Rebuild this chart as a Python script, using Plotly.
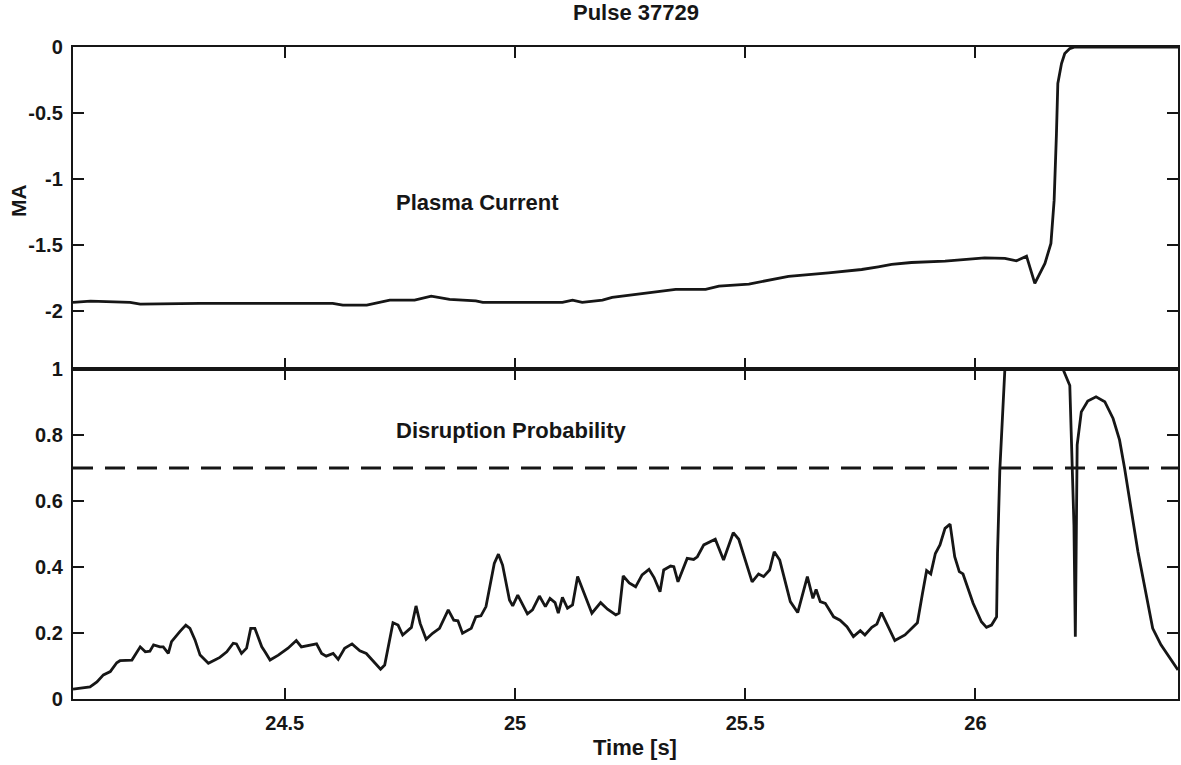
import plotly.graph_objects as go
from plotly.subplots import make_subplots

title_text = "Pulse 37729"
current_label = "Plasma Current"
prob_label = "Disruption Probability"
y_top_title = "MA"
x_title = "Time [s]"
threshold = 0.7

# Plasma current (MA) vs time (s)
t_current = [24.04, 24.078, 24.164, 24.186, 24.316, 24.604, 24.626, 24.678, 24.728, 24.782,
             24.818, 24.858, 24.915, 24.930, 25.103, 25.125, 25.146, 25.190, 25.211, 25.291,
             25.349, 25.414, 25.443, 25.508, 25.551, 25.594, 25.681, 25.753, 25.789, 25.818,
             25.861, 25.934, 26.020, 26.064, 26.089, 26.111, 26.129, 26.151, 26.164, 26.171,
             26.176, 26.179, 26.187, 26.194, 26.205, 26.216, 26.44]
i_current = [-1.938, -1.928, -1.938, -1.951, -1.945, -1.945, -1.958, -1.958, -1.92, -1.92,
             -1.89, -1.915, -1.926, -1.938, -1.938, -1.92, -1.938, -1.92, -1.90, -1.862,
             -1.839, -1.839, -1.814, -1.799, -1.769, -1.74, -1.713, -1.688, -1.668, -1.65,
             -1.635, -1.625, -1.60, -1.604, -1.622, -1.587, -1.794, -1.642, -1.49, -1.162,
             -0.657, -0.277, -0.126, -0.05, -0.012, 0.0, 0.0]

# Disruption probability vs time (s)
t_prob = [24.04, 24.049, 24.077, 24.092, 24.106, 24.121, 24.135, 24.142, 24.168, 24.186,
          24.197, 24.207, 24.215, 24.229, 24.236, 24.247, 24.254, 24.272, 24.285, 24.294,
          24.305, 24.316, 24.334, 24.348, 24.359, 24.374, 24.388, 24.395, 24.406, 24.417,
          24.426, 24.435, 24.450, 24.457, 24.468, 24.486, 24.507, 24.525, 24.536, 24.569,
          24.580, 24.590, 24.605, 24.616, 24.630, 24.646, 24.663, 24.677, 24.691, 24.708,
          24.717, 24.735, 24.746, 24.756, 24.775, 24.785, 24.794, 24.807, 24.821, 24.836,
          24.855, 24.867, 24.876, 24.886, 24.905, 24.915, 24.926, 24.937, 24.955, 24.964,
          24.973, 24.988, 24.995, 25.006, 25.027, 25.038, 25.053, 25.066, 25.076, 25.087,
          25.094, 25.103, 25.114, 25.125, 25.136, 25.150, 25.167, 25.186, 25.201, 25.219,
          25.226, 25.235, 25.248, 25.262, 25.276, 25.291, 25.302, 25.315, 25.323, 25.338,
          25.345, 25.354, 25.374, 25.388, 25.396, 25.410, 25.425, 25.435, 25.453, 25.474,
          25.486, 25.500, 25.515, 25.529, 25.540, 25.553, 25.563, 25.575, 25.587, 25.598,
          25.614, 25.635, 25.647, 25.654, 25.663, 25.674, 25.692, 25.706, 25.721, 25.735,
          25.750, 25.760, 25.775, 25.786, 25.796, 25.807, 25.825, 25.847, 25.861, 25.874,
          25.885, 25.894, 25.903, 25.913, 25.923, 25.934, 25.945, 25.955, 25.965, 25.973,
          25.995, 26.013, 26.024, 26.035, 26.046, 26.048, 26.053, 26.058, 26.064, 26.190,
          26.201, 26.205, 26.208, 26.214, 26.217, 26.219, 26.221, 26.230, 26.244, 26.262,
          26.281, 26.299, 26.313, 26.324, 26.353, 26.385, 26.403, 26.44]
p_prob = [0.03, 0.032, 0.037, 0.052, 0.073, 0.083, 0.11, 0.116, 0.118, 0.158,
          0.143, 0.145, 0.164, 0.158, 0.158, 0.138, 0.174, 0.204, 0.224, 0.214,
          0.179, 0.133, 0.108, 0.118, 0.126, 0.143, 0.169, 0.167, 0.138, 0.154,
          0.214, 0.214, 0.158, 0.143, 0.118, 0.133, 0.154, 0.177, 0.158, 0.167,
          0.138, 0.130, 0.138, 0.120, 0.154, 0.167, 0.146, 0.138, 0.116, 0.09,
          0.103, 0.231, 0.224, 0.194, 0.217, 0.282, 0.229, 0.181, 0.199, 0.214,
          0.27, 0.239, 0.237, 0.199, 0.214, 0.249, 0.252, 0.28, 0.411, 0.439,
          0.406, 0.30, 0.282, 0.315, 0.258, 0.27, 0.312, 0.28, 0.305, 0.292,
          0.26, 0.308, 0.275, 0.285, 0.371, 0.32, 0.26, 0.292, 0.272, 0.255,
          0.26, 0.373, 0.352, 0.34, 0.376, 0.393, 0.368, 0.325, 0.391, 0.403,
          0.401, 0.355, 0.426, 0.423, 0.431, 0.467, 0.477, 0.484, 0.421, 0.504,
          0.484, 0.423, 0.355, 0.379, 0.371, 0.391, 0.446, 0.421, 0.351, 0.295,
          0.262, 0.371, 0.305, 0.332, 0.295, 0.29, 0.249, 0.239, 0.219, 0.189,
          0.207, 0.194, 0.217, 0.227, 0.262, 0.229, 0.177, 0.194, 0.214, 0.231,
          0.32, 0.389, 0.379, 0.441, 0.467, 0.517, 0.53, 0.431, 0.386, 0.379,
          0.29, 0.234, 0.217, 0.224, 0.249, 0.441, 0.694, 0.845, 1.0, 1.0,
          0.967, 0.95, 0.81, 0.527, 0.189, 0.487, 0.77, 0.87, 0.903, 0.916,
          0.901, 0.85, 0.785, 0.699, 0.446, 0.214, 0.164, 0.088]

x_range = [24.04, 26.44]
x_ticks = [24.5, 25, 25.5, 26]
x_ticktext = ["24.5", "25", "25.5", "26"]
y_top_range = [-2.443, 0]
y_top_ticks = [0, -0.5, -1, -1.5, -2]
y_top_ticktext = ["0", "-0.5", "-1", "-1.5", "-2"]
y_bot_range = [0, 1]
y_bot_ticks = [0, 0.2, 0.4, 0.6, 0.8, 1]
y_bot_ticktext = ["0", "0.2", "0.4", "0.6", "0.8", "1"]

FONT = "Liberation Sans, Arial, sans-serif"
INK = "#161616"

fig = make_subplots(rows=2, cols=1, shared_xaxes=True, vertical_spacing=0,
                    row_heights=[322, 330])

fig.add_trace(go.Scatter(x=t_current, y=i_current, mode="lines",
                         line=dict(color=INK, width=2.8), showlegend=False),
              row=1, col=1)
fig.add_trace(go.Scatter(x=t_prob, y=p_prob, mode="lines",
                         line=dict(color=INK, width=2.8), showlegend=False),
              row=2, col=1)
fig.add_hline(y=threshold, row=2, col=1,
              line=dict(color=INK, width=2.8, dash="20px,12px"))

axis_common = dict(showline=True, linecolor=INK, linewidth=2.4, mirror="ticks",
                   ticks="inside", ticklen=11, tickwidth=2, tickcolor=INK,
                   showgrid=False, zeroline=False,
                   tickfont=dict(family=FONT, size=20, color=INK, weight="bold"))

fig.update_xaxes(range=x_range, tickvals=x_ticks, ticktext=x_ticktext, **axis_common)
fig.update_xaxes(showticklabels=False, row=1, col=1)
fig.update_xaxes(ticklabelstandoff=5, row=2, col=1)
fig.update_yaxes(range=y_top_range, tickvals=y_top_ticks, ticktext=y_top_ticktext,
                 ticklabelstandoff=4, row=1, col=1, **axis_common)
fig.update_yaxes(range=y_bot_range, tickvals=y_bot_ticks, ticktext=y_bot_ticktext,
                 ticklabelstandoff=4, row=2, col=1, **axis_common)

label_font = dict(family=FONT, size=22, color=INK, weight="bold")
fig.add_annotation(x=24.918, y=-1.177, xref="x", yref="y", text=current_label,
                   showarrow=False, xanchor="center", yanchor="middle", font=label_font)
fig.add_annotation(x=24.992, y=0.815, xref="x2", yref="y2", text=prob_label,
                   showarrow=False, xanchor="center", yanchor="middle", font=label_font)
fig.add_annotation(x=0.5086, y=-0.075, xref="paper", yref="paper", text=x_title,
                   showarrow=False, xanchor="center", yanchor="middle", font=label_font)
fig.add_annotation(x=-0.0488, y=0.764, xref="paper", yref="paper", text=y_top_title,
                   textangle=-90, showarrow=False, xanchor="center", yanchor="middle",
                   font=dict(family=FONT, size=21, color=INK, weight="bold"))

fig.update_layout(
    width=1181, height=765,
    margin=dict(l=73, r=1, t=47, b=66),
    paper_bgcolor="white", plot_bgcolor="white",
    title=dict(text=title_text, x=0.5385, xanchor="center", y=0.984, yanchor="middle",
               font=dict(family=FONT, size=22, color=INK, weight="bold")),
    showlegend=False,
)

fig.write_html("out.html")
